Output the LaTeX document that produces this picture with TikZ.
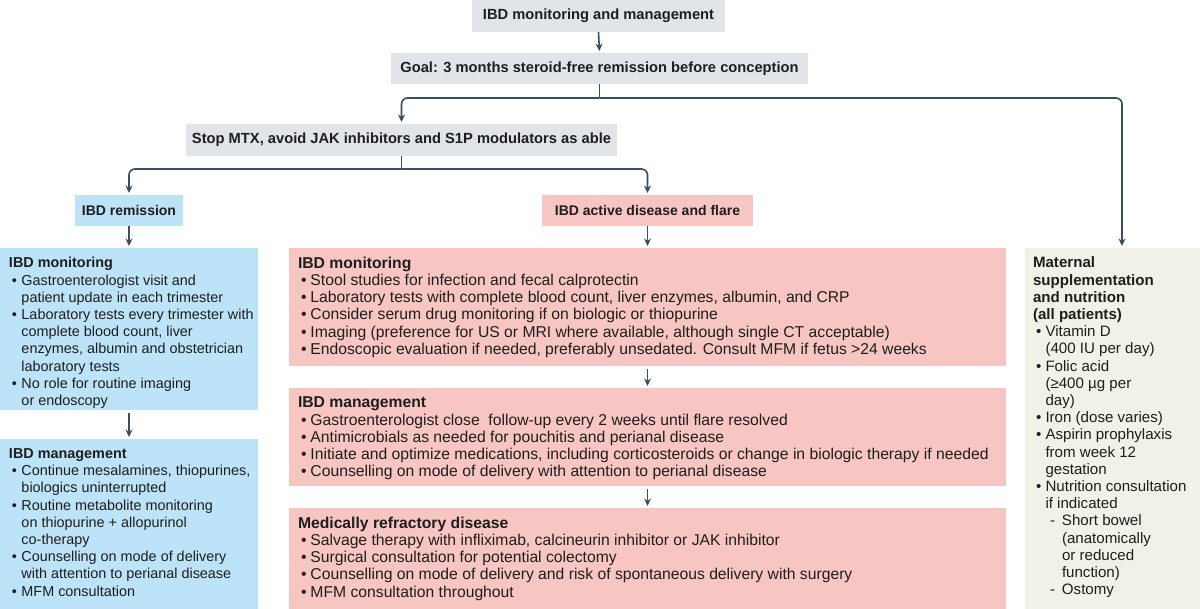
\documentclass[tikz,border=0pt]{standalone}
\usepackage{fontspec}
\setmainfont{Liberation Sans}
\usetikzlibrary{arrows.meta,calc}
\definecolor{grayfill}{HTML}{E1E5EA}
\definecolor{bluefill}{HTML}{BCE3F7}
\definecolor{pinkfill}{HTML}{F7C6C2}
\definecolor{beigefill}{HTML}{F2F1E7}
\definecolor{arrowcol}{HTML}{3A4D63}
\definecolor{txt}{HTML}{1E1E1E}
\newcommand{\bi}{\hspace*{3pt}\makebox[9.5pt][l]{\textbullet}}
\newcommand{\ci}{\hspace*{12.5pt}}
\newcommand{\di}{\hspace*{17pt}\makebox[12pt][l]{-}}
\newcommand{\dci}{\hspace*{29pt}}
\tikzset{
  title/.style={inner sep=0, outer sep=0, text=txt, font=\fontsize{14.7}{17}\selectfont\bfseries},
  subtitle/.style={title, font=\fontsize{14}{17}\selectfont\bfseries},
  panel/.style={inner sep=0, outer sep=0, anchor=north west},
  body/.style={inner sep=0, outer sep=0, anchor=north west, align=left, text=txt, font=\fontsize{#1}{17.2}\selectfont},
  body/.default=14.4,
  conn/.style={draw=arrowcol, line width=1.6pt},
  arr/.style={conn, -{Stealth[length=7.5pt,width=7pt]}, shorten >=2pt},
  varr/.style={arr, shorten <=3pt}
}
\begin{document}
\begin{tikzpicture}[x=1pt,y=-1pt]
\useasboundingbox (0,0) rectangle (1200,609);

% small title boxes
\node[title, fill=grayfill, minimum width=253pt, minimum height=32pt] (top) at (598.5,16) {IBD monitoring and management};
\node[title, fill=grayfill, minimum width=417pt, minimum height=31pt] (goal) at (599.5,68.5) {Goal: 3 months steroid-free remission before conception};
\node[title, fill=grayfill, minimum width=431pt, minimum height=32pt] (stop) at (401.5,140) {Stop MTX, avoid JAK inhibitors and S1P modulators as able};
\node[subtitle, fill=bluefill, minimum width=108pt, minimum height=31pt] (rem) at (129,210.5) {IBD remission};
\node[subtitle, fill=pinkfill, minimum width=211pt, minimum height=31pt] (act) at (647.5,210.5) {IBD active disease and flare};

% panels
\node[panel, fill=bluefill, minimum width=258pt, minimum height=162pt] (lmon) at (0,248) {};
\node[panel, fill=bluefill, minimum width=258pt, minimum height=170pt] (lmgmt) at (0,439) {};
\node[panel, fill=pinkfill, minimum width=717pt, minimum height=118pt] (mmon) at (289,248) {};
\node[panel, fill=pinkfill, minimum width=717pt, minimum height=98pt] (mmgmt) at (289,388) {};
\node[panel, fill=pinkfill, minimum width=717pt, minimum height=101pt] (refr) at (289,508) {};
\node[panel, fill=beigefill, minimum width=175pt, minimum height=361pt] (rgt) at (1025,248) {};

% panel texts
\node[body=14.4] (lmonT) at ($(lmon.north west)+(9,9.5)$) {\textbf{IBD monitoring}\\
\bi Gastroenterologist visit and\\
\ci patient update in each trimester\\
\bi Laboratory tests every trimester with\\
\ci complete blood count, liver\\
\ci enzymes, albumin and obstetrician\\
\ci laboratory tests\\
\bi No role for routine imaging\\
\ci or endoscopy};

\node[body=14.4] (lmgmtT) at ($(lmgmt.north west)+(9,9.5)$) {\textbf{IBD management}\\
\bi Continue mesalamines, thiopurines,\\
\ci biologics uninterrupted\\
\bi Routine metabolite monitoring\\
\ci on thiopurine + allopurinol\\
\ci co-therapy\\
\bi Counselling on mode of delivery\\
\ci with attention to perianal disease\\
\bi MFM consultation};

\node[body=15.7] (mmonT) at ($(mmon.north west)+(9,9)$) {\textbf{IBD monitoring}\\
\bi Stool studies for infection and fecal calprotectin\\
\bi Laboratory tests with complete blood count, liver enzymes, albumin, and CRP\\
\bi Consider serum drug monitoring if on biologic or thiopurine\\
\bi Imaging (preference for US or MRI where available, although single CT acceptable)\\
\bi Endoscopic evaluation if needed, preferably unsedated. Consult MFM if fetus >24 weeks};

\node[body=15.7] (mmgmtT) at ($(mmgmt.north west)+(9,9)$) {\textbf{IBD management}\\
\bi Gastroenterologist close\ \ follow-up every 2 weeks until flare resolved\\
\bi Antimicrobials as needed for pouchitis and perianal disease\\
\bi Initiate and optimize medications, including corticosteroids or change in biologic therapy if needed\\
\bi Counselling on mode of delivery with attention to perianal disease};

\node[body=15.7] (refrT) at ($(refr.north west)+(9,9)$) {\textbf{Medically refractory disease}\\
\bi Salvage therapy with infliximab, calcineurin inhibitor or JAK inhibitor\\
\bi Surgical consultation for potential colectomy\\
\bi Counselling on mode of delivery and risk of spontaneous delivery with surgery\\
\bi MFM consultation throughout};

\node[body=15.1] (rgtT) at ($(rgt.north west)+(8,9)$) {\textbf{Maternal}\\
\textbf{supplementation}\\
\textbf{and nutrition}\\
\textbf{(all patients)}\\
\bi Vitamin D\\
\ci (400 IU per day)\\
\bi Folic acid\\
\ci (≥400 µg per\\
\ci day)\\
\bi Iron (dose varies)\\
\bi Aspirin prophylaxis\\
\ci from week 12\\
\ci gestation\\
\bi Nutrition consultation\\
\ci if indicated\\
\di Short bowel\\
\dci (anatomically\\
\dci or reduced\\
\dci function)\\
\di Ostomy};

% connectors
\draw[arr] (top.south) -- (goal.north);
\coordinate (j1) at ($(goal.south)+(0,14)$);
\draw[conn] (goal.south) -- (j1);
\draw[arr, rounded corners=6pt] (j1) -| (stop.north);
\draw[arr, rounded corners=6pt] (j1) -| ([xshift=9.5pt]rgt.north);
\coordinate (j2) at ($(stop.south)+(0,13)$);
\draw[conn] (stop.south) -- (j2);
\draw[arr, rounded corners=6pt] (j2) -| (rem.north);
\draw[arr, rounded corners=6pt] (j2) -| (act.north);
\draw[arr] (rem.south) -- (rem.south |- lmon.north);
\draw[arr] (act.south) -- (act.south |- mmon.north);
\draw[varr] (lmon.south) -- (lmgmt.north);
\draw[varr] (mmon.south) -- (mmgmt.north);
\draw[varr] (mmgmt.south) -- (refr.north);
\end{tikzpicture}
\end{document}
